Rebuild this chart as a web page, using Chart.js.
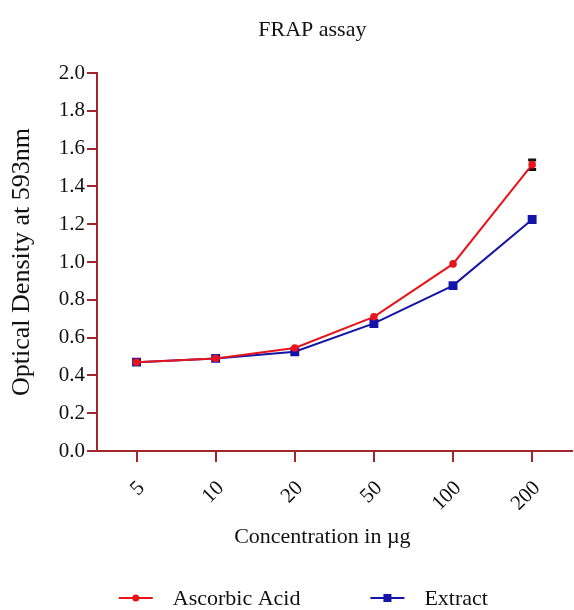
<!DOCTYPE html>
<html>
<head>
<meta charset="utf-8">
<script src="https://cdn.jsdelivr.net/npm/chart.js@4.4.0/dist/chart.umd.min.js"></script>
<style>
  html, body { margin: 0; padding: 0; background: #ffffff; overflow: hidden; width: 574px; height: 610px; }
  #wrap { width: 578px; height: 610px; position: relative; }
</style>
</head>
<body>
<div id="wrap"><canvas id="c"></canvas></div>
<script>
const categories = ['5', '10', '20', '50', '100', '200'];
const ascorbicAcid = [0.47, 0.49, 0.545, 0.71, 0.99, 1.515];
const extract = [0.47, 0.49, 0.525, 0.675, 0.875, 1.225];
const ascorbicErr = [0, 0, 0, 0, 0, 0.025];
const seriesNames = ['Ascorbic Acid', 'Extract'];
const chartTitle = 'FRAP assay';
const xTitle = 'Concentration in \u00b5g';
const yTitle = 'Optical Density at 593nm';

const AXIS = '#a3262c';
const RED = '#e8141b';
const BLUE = '#1414a8';
const FONT = "'Liberation Serif', 'Times New Roman', serif";

const errorBars = {
  id: 'errorBars',
  beforeDatasetsDraw(chart) {
    const ctx = chart.ctx;
    const x = chart.scales.x, y = chart.scales.y;
    ctx.save();
    ctx.strokeStyle = '#111'; ctx.lineWidth = 3;
    ascorbicErr.forEach((e, i) => {
      if (!e) return;
      const px = x.getPixelForValue(i);
      const top = y.getPixelForValue(ascorbicAcid[i] + e);
      const bot = y.getPixelForValue(ascorbicAcid[i] - e);
      ctx.beginPath();
      ctx.moveTo(px, top); ctx.lineTo(px, bot);
      ctx.moveTo(px - 4, top); ctx.lineTo(px + 4, top);
      ctx.moveTo(px - 4, bot); ctx.lineTo(px + 4, bot);
      ctx.stroke();
    });
    ctx.restore();
  }
};

// Title, x-axis title and line+marker legend, placed as in the original figure
const decorations = {
  id: 'decorations',
  afterDraw(chart) {
    const ctx = chart.ctx;
    const area = chart.chartArea;
    const mid = (area.left + area.right) / 2;
    ctx.save();
    ctx.fillStyle = '#111';
    ctx.textBaseline = 'middle';
    ctx.textAlign = 'center';
    ctx.font = '22px ' + FONT;
    ctx.fillText(chartTitle, mid - 22, 30);
    ctx.fillText(xTitle, mid - 12, area.bottom + 86);

    const lineLen = 34, gapText = 20, gapItems = 70;
    const items = chart.data.datasets.map(ds => ({
      ds, w: lineLen + gapText + ctx.measureText(ds.label).width
    }));
    const total = items.reduce((s, it) => s + it.w, 0) + gapItems * (items.length - 1);
    let x = mid - 31 - total / 2;
    const y = area.bottom + 147;
    items.forEach(({ ds, w }) => {
      ctx.strokeStyle = ds.borderColor; ctx.lineWidth = 2;
      ctx.beginPath(); ctx.moveTo(x, y); ctx.lineTo(x + lineLen, y); ctx.stroke();
      ctx.fillStyle = ds.borderColor;
      const cx = x + lineLen / 2;
      if (ds.pointStyle === 'circle') { ctx.beginPath(); ctx.arc(cx, y, 3.5, 0, Math.PI * 2); ctx.fill(); }
      else { ctx.fillRect(cx - 4, y - 4, 8, 8); }
      ctx.fillStyle = '#111';
      ctx.textAlign = 'left';
      ctx.fillText(ds.label, x + lineLen + gapText, y + 1);
      x += w + gapItems;
    });
    ctx.restore();
  }
};

new Chart(document.getElementById('c'), {
  type: 'line',
  data: {
    labels: categories,
    datasets: [
      { label: seriesNames[0], data: ascorbicAcid, borderColor: RED, backgroundColor: RED,
        borderWidth: 2, pointStyle: 'circle', pointRadius: 3.8, pointBorderWidth: 0, tension: 0 },
      { label: seriesNames[1], data: extract, borderColor: BLUE, backgroundColor: BLUE,
        borderWidth: 2, pointStyle: 'rect', pointRadius: 6.3, pointBorderWidth: 0, tension: 0 }
    ]
  },
  options: {
    responsive: true,
    maintainAspectRatio: false,
    animation: false,
    layout: { padding: { left: 0, right: 0, top: 73, bottom: 0 } },
    plugins: {
      title: { display: false },
      tooltip: { enabled: false },
      legend: { display: false }
    },
    scales: {
      x: {
        offset: true,
        afterFit(scale) { scale.height = 159; },
        border: { color: AXIS, width: 2 },
        grid: { display: true, drawOnChartArea: false, drawTicks: true, tickLength: 11, color: AXIS, lineWidth: 2, offset: false },
        ticks: { color: '#111', font: { family: FONT, size: 21 }, minRotation: 45, maxRotation: 45, padding: 14, labelOffset: 5 }
      },
      y: {
        min: 0, max: 2.0,
        afterFit(scale) { scale.width = 97; },
        border: { color: AXIS, width: 2 },
        grid: { display: true, drawOnChartArea: false, drawTicks: true, tickLength: 10, color: AXIS, lineWidth: 2 },
        ticks: { stepSize: 0.2, color: '#111', font: { family: FONT, size: 21 }, padding: 2,
          callback: (v) => Number(v).toFixed(1) },
        title: { display: true, text: yTitle, color: '#111', font: { family: FONT, size: 26 }, padding: { top: 7, bottom: 0 } }
      }
    }
  },
  plugins: [errorBars, decorations]
});
</script>
</body>
</html>
